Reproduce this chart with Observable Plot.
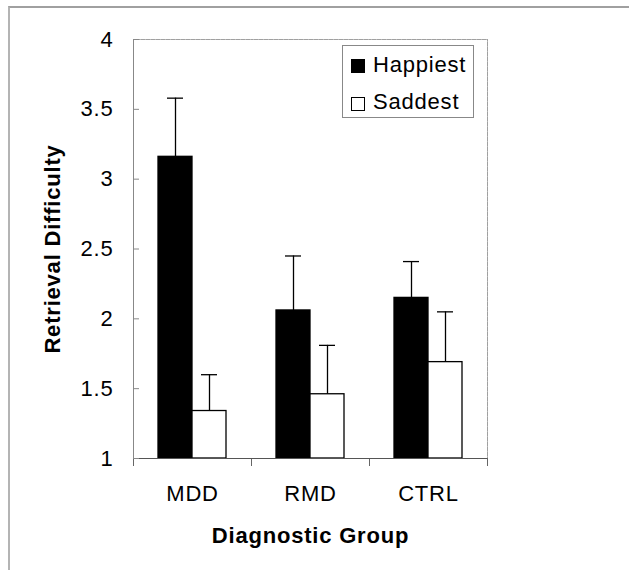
<!DOCTYPE html>
<html><head><meta charset="utf-8">
<script src="https://cdn.jsdelivr.net/npm/d3@7"></script>
<script src="https://cdn.jsdelivr.net/npm/@observablehq/plot@0.6"></script>
<style>
body{margin:0;background:#fff;}
#wrap{position:relative;width:629px;height:570px;overflow:hidden;font-family:"Liberation Sans",Arial,sans-serif;}
#outer{position:absolute;left:8px;top:6px;width:660px;height:600px;border-left:2px solid #b4b4b4;border-top:2px solid #a0a0a0;}
#chart{position:absolute;left:0;top:0;}
#legend{position:absolute;left:342px;top:45px;width:132px;height:73px;border:1px solid #888;background:#fff;box-sizing:border-box;font-size:22px;letter-spacing:0.8px;color:#000}
.sw{position:absolute;left:8px;width:14px;height:14px;box-sizing:border-box;border:1.3px solid #000}
.lt{position:absolute;left:30px;line-height:22px;white-space:nowrap}
</style></head>
<body>
<div id="wrap">
  <div id="outer"></div>
  <div id="chart"></div>
  <div id="legend"></div>
</div>
<script>
const groups = ["MDD", "RMD", "CTRL"];
const series = ["Happiest", "Saddest"];
const happiestMean = [3.16, 2.06, 2.15];
const happiestSE = [0.42, 0.39, 0.26];
const saddestMean = [1.34, 1.46, 1.69];
const saddestSE = [0.26, 0.35, 0.36];
const yTicks = [1, 1.5, 2, 2.5, 3, 3.5, 4];
const seriesColors = ["#000", "#fff"];

const data = groups.flatMap((g, i) => [
  {group: g, series: series[0], mean: happiestMean[i], se: happiestSE[i]},
  {group: g, series: series[1], mean: saddestMean[i], se: saddestSE[i]}
]);

const W = 629, H = 570, mL = 132, mR = 142, mT = 39, mB = 112;
const plotH = H - mT - mB;
const FS = 22;

const chart = Plot.plot({
  width: W, height: H,
  marginLeft: mL, marginRight: mR, marginTop: mT, marginBottom: mB,
  style: {fontFamily: '"Liberation Sans", Arial, sans-serif', fontSize: "22px", background: "transparent", color: "#000", letterSpacing: "0.8px"},
  fx: {domain: groups, padding: 0},
  x: {domain: series, paddingInner: 0, paddingOuter: 0.69, axis: null},
  y: {domain: [1, 4]},
  color: {domain: series, range: seriesColors},
  marks: [
    Plot.frame({anchor: "top", stroke: "#a0a0a0", strokeDasharray: "1.5 1"}),
    Plot.frame({anchor: "right", facetAnchor: "right", stroke: "#a0a0a0", strokeDasharray: "1.5 1"}),
    Plot.frame({anchor: "left", facetAnchor: "left", stroke: "#888"}),
    Plot.frame({anchor: "left", insetTop: plotH, insetBottom: -7, stroke: "#666"}),
    Plot.frame({anchor: "right", facetAnchor: "right", insetTop: plotH, insetBottom: -7, stroke: "#666"}),
    Plot.barY(data, {fx: "group", x: "series", y1: 1, y2: "mean", fill: "series", stroke: "#000", strokeWidth: 1.3}),
    Plot.ruleX(data, {fx: "group", x: "series", y1: "mean", y2: d => d.mean + d.se, stroke: "#000", strokeWidth: 1.3}),
    Plot.tickY(data, {fx: "group", x: "series", y: d => d.mean + d.se, insetLeft: 9, insetRight: 9, stroke: "#000", strokeWidth: 1.3}),
    Plot.ruleY([1], {stroke: "#555"}),
    Plot.axisY({ticks: yTicks, tickSize: 6, dx: 6, tickFormat: () => "", label: null, stroke: "#888"}),
    Plot.axisY({ticks: yTicks, tickSize: 0, tickPadding: 20, tickFormat: d => String(d), label: null, fontSize: FS}),
    Plot.axisY({ticks: [], label: "Retrieval Difficulty", labelArrow: "none", labelAnchor: "center", labelOffset: 89, fontWeight: "bold", fontSize: FS}),
    Plot.axisFx({anchor: "bottom", tickSize: 0, tickPadding: 27, label: null, fontSize: FS}),
    Plot.axisFx({anchor: "bottom", ticks: [], label: "Diagnostic Group", labelArrow: "none", labelAnchor: "center", labelOffset: 84, fontWeight: "bold", fontSize: FS})
  ]
});
document.getElementById("chart").appendChild(chart);

const legend = document.getElementById("legend");
const rows = [{sw: 13.3, txt: 8.1}, {sw: 51.3, txt: 45.4}];
series.forEach((s, i) => {
  const sw = document.createElement("div");
  sw.className = "sw";
  sw.style.top = rows[i].sw + "px";
  sw.style.background = seriesColors[i];
  legend.appendChild(sw);
  const t = document.createElement("div");
  t.className = "lt";
  t.style.top = rows[i].txt + "px";
  t.textContent = s;
  legend.appendChild(t);
});
</script>
</body></html>
